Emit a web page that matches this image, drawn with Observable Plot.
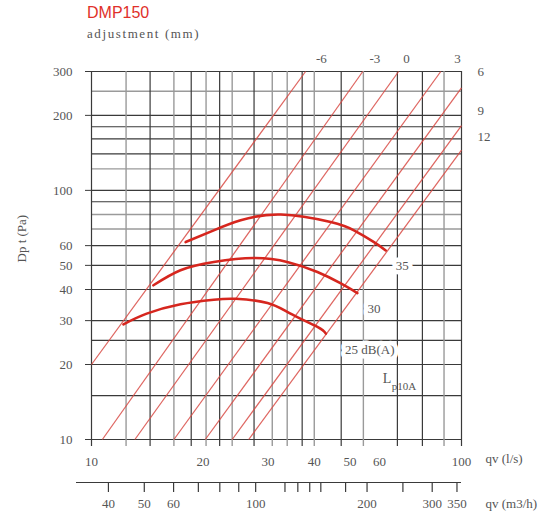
<!DOCTYPE html>
<html><head><meta charset="utf-8">
<script src="https://cdn.jsdelivr.net/npm/d3@7"></script>
<script src="https://cdn.jsdelivr.net/npm/@observablehq/plot@0.6"></script>
<style>
body{margin:0;background:#fff;}
#wrap{position:relative;width:553px;height:519px;}
#title{position:absolute;left:87px;top:4px;font:16px "Liberation Sans",Arial,sans-serif;color:#e0302a;}
#sub{position:absolute;left:87px;top:26px;font:13px "Liberation Serif",serif;color:#555;letter-spacing:1.6px;}
</style></head><body>
<div id="wrap"><div id="chart"></div><div id="title">DMP150</div><div id="sub">adjustment (mm)</div></div>
<script>
// grid values (l/s and Pa)
const xGridDark = [10, 14.4, 18.6, 22.2, 27.5, 37.1, 47.3, 67.1, 78.4, 100];
const xGridLight = [12.4, 16.7, 20.4, 24, 30.8, 33.8, 40, 54.3, 89.7];
const yGridDark = [10, 15, 20, 25, 30, 40, 50, 60, 90, 100, 140, 161, 180, 200, 300];
const yGridLight = [70, 80, 122, 250];
const yTicks = [10, 20, 30, 40, 50, 60, 100, 200, 300];
const xTicks = [10, 20, 30, 40, 50, 60, 100];
const m3hTicks = [40, 50, 60, 70, 80, 90, 100, 120, 130, 140, 150, 175, 200, 250, 300, 350];
const m3hLabels = [40, 50, 60, 100, 200, 300, 350];

// damper adjustment lines (start and end points, l/s and Pa)
const adjNames = ["-6", "-3", "0", "3", "6", "9", "12"];
const lineQ1 = [10, 10.7, 13.1, 16.7, 20.3, 24, 26.6];
const lineP1 = [20, 10, 10, 10, 10, 10, 10];
const lineQ2 = [37.9, 54.1, 67.6, 87.9, 100, 100, 100];
const lineP2 = [300, 300, 300, 300, 258, 182, 145];
const adjTop = ["-6", "-3", "0", "3"];
const adjTopQ = [41.8, 58.3, 71, 97.5];
const adjRight = ["6", "9", "12"];
const adjRightP = [298, 209, 164];

// sound level curves
const n35Q = [17.96, 21.4, 25.3, 32.5, 44.3, 51.2, 58.0, 62.4];
const n35P = [62.0, 69.1, 75.8, 80.0, 74.6, 69.1, 62.0, 57.4];
const n30Q = [14.7, 17.4, 21.4, 27.5, 34.0, 40.8, 47.2, 52.3];
const n30P = [41.6, 47.8, 51.6, 53.5, 51.5, 47.0, 42.3, 38.7];
const n25Q = [12.2, 14.1, 17.4, 21.4, 24.5, 29.9, 34.5, 40.8, 43.0];
const n25P = [29.0, 32.0, 34.9, 36.4, 36.7, 35.3, 32.0, 28.3, 26.6];
const curveLabels = ["35", "30", "25 dB(A)"];
const curveLabelQ = [69.2, 58.0, 56.5];
const curveLabelP = [50.0, 33.5, 22.8];

const toRows = (Q, P) => Q.map((q, i) => ({q, p: P[i]}));
const curves = [toRows(n35Q, n35P), toRows(n30Q, n30P), toRows(n25Q, n25P)];

const red = "#d84a44";
const gray = "#555";

const plot = Plot.plot({
  width: 553, height: 519,
  marginLeft: 91, marginRight: 92, marginTop: 71, marginBottom: 80,
  style: {fontFamily: "'Liberation Serif', 'DejaVu Serif', serif", fontSize: "13px", color: gray, background: "#fff"},
  x: {type: "log", domain: [10, 100]},
  y: {type: "log", domain: [10, 300]},
  marks: [
    Plot.ruleY(yGridLight, {stroke: "#9a9a9a", strokeWidth: 1.4}),
    Plot.ruleY(yGridDark, {stroke: "#3a3a3a", strokeWidth: 1.2}),
    Plot.ruleX(xGridLight, {stroke: "#9a9a9a", strokeWidth: 1.4, insetBottom: -7}),
    Plot.ruleX(xGridDark, {stroke: "#3a3a3a", strokeWidth: 1.2, insetBottom: -7}),
    Plot.axisY({ticks: yTicks, tickSize: 6, tickPadding: 13, tickFormat: d => String(d), label: null, stroke: "#3a3a3a"}),
    Plot.axisX({ticks: xTicks, tickSize: 0, tickPadding: 17, tickFormat: d => String(d), label: null}),
    Plot.link(adjNames, {x1: lineQ1, y1: lineP1, x2: lineQ2, y2: lineP2, stroke: red, strokeWidth: 1.25, strokeOpacity: 0.85}),
    ...curves.map(c => Plot.line(c, {x: "q", y: "p", curve: "natural", stroke: "#d6261e", strokeWidth: 2.6})),
    Plot.text(curveLabels, {x: curveLabelQ, y: curveLabelP, text: d => d, stroke: "#fff", strokeWidth: 9, fill: gray, fontSize: 13}),
    Plot.text(["L"], {x: [62.8], y: [17.6], text: d => d, fill: gray, fontSize: 14, textAnchor: "start", dx: -4}),
    Plot.text(["p10A"], {x: [62.8], y: [17.6], text: d => d, fill: gray, fontSize: 11, textAnchor: "start", dx: 5, dy: 8}),
    Plot.text(adjTop, {x: adjTopQ, frameAnchor: "top", dy: -18, text: d => d, fill: gray}),
    Plot.text(adjRight, {y: adjRightP, frameAnchor: "right", dx: 16, textAnchor: "start", text: d => d, fill: gray}),
    Plot.text(["Dp t (Pa)"], {frameAnchor: "left", dx: -70, dy: 7, rotate: -90, text: d => d, fill: gray}),
    Plot.text(["qv (l/s)"], {frameAnchor: "bottom-right", dx: 24, dy: 23, textAnchor: "start", text: d => d, fill: gray}),
    Plot.ruleY([10], {dy: 43, insetLeft: -15, stroke: "#3a3a3a", strokeWidth: 1.2}),
    Plot.ruleX(m3hTicks, {x: d => d / 3.6, insetTop: 411, insetBottom: -53, stroke: "#3a3a3a", strokeWidth: 1.2}),
    Plot.text(m3hLabels, {x: d => d / 3.6, frameAnchor: "bottom", dy: 68, text: d => String(d), fill: gray}),
    Plot.text(["qv (m3/h)"], {frameAnchor: "bottom-right", dx: 24, dy: 68, textAnchor: "start", text: d => d, fill: gray})
  ]
});
document.getElementById("chart").appendChild(plot);
</script>
</body></html>
